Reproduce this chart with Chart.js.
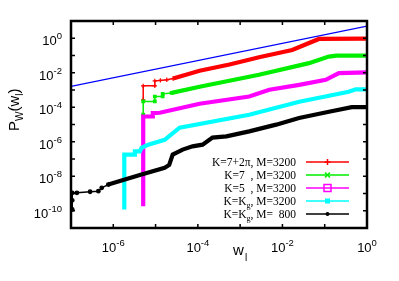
<!DOCTYPE html>
<html>
<head>
<meta charset="utf-8">
<script src="https://cdn.jsdelivr.net/npm/chart.js@4"></script>
<style>
html, body { margin: 0; padding: 0; background: #fff; }
#wrap { width: 399px; height: 281px; position: relative; }
</style>
</head>
<body>
<div id="wrap"><canvas id="c"></canvas></div>
<script>
// values (log-log)
const refX = [1e-7, 1];
const refY = [1.6e-3, 5.0];

const redX = [5.1e-6, 5.1e-6, 9.6e-6, 9.6e-6, 1.3e-5, 1.84e-5, 2.6e-5, 1.1e-4, 5.6e-4, 2.8e-3, 1.7e-2, 7.3e-2, 1];
const redY = [2.7e-4, 1.74e-3, 1.74e-3, 3.4e-3, 3.6e-3, 3.9e-3, 4.6e-3, 1.3e-2, 3.0e-2, 8.0e-2, 0.21, 0.91, 0.95];

const greenX = [5.1e-6, 5.1e-6, 9.6e-6, 9.6e-6, 1.47e-5, 1.47e-5, 2.4e-5, 1.1e-4, 2.8e-3, 4.25e-2, 0.125, 0.19, 1];
const greenY = [3.7e-5, 2.16e-4, 2.16e-4, 4.2e-4, 4.2e-4, 6.0e-4, 6.8e-4, 1.53e-3, 7.6e-3, 3.6e-2, 8.6e-2, 9.9e-2, 9.9e-2];

const magentaX = [5.1e-6, 5.1e-6, 8.6e-6, 8.6e-6, 1.26e-5, 1.1e-4, 1.64e-3, 4.9e-3, 2.5e-2, 0.106, 0.216, 1];
const magentaY = [1.85e-10, 2.9e-5, 2.9e-5, 4.6e-5, 4.8e-5, 1.6e-4, 4.2e-4, 1.03e-3, 2.0e-3, 3.9e-3, 9.5e-3, 1.05e-2];

const cyanX = [1.82e-6, 1.82e-6, 3.24e-6, 3.24e-6, 4.25e-6, 4.66e-6, 6.7e-6, 1.64e-5, 3.7e-5, 1.64e-3, 2.5e-2, 0.37, 0.54, 1];
const cyanY = [1.2e-10, 1.8e-7, 1.8e-7, 2.8e-7, 2.8e-7, 4.4e-7, 6.8e-7, 1.3e-6, 6.5e-6, 3.7e-5, 2.1e-4, 7.9e-4, 1.1e-3, 1.1e-3];

const blackX = [1.07e-7, 1.07e-7, 1.07e-7, 1.38e-7, 2.83e-7, 4.44e-7, 5.33e-7, 7.63e-7, 1.88e-6, 4.66e-6, 1.64e-5, 2.1e-5, 2.54e-5, 4.37e-5, 7.5e-5, 1.29e-4, 2.22e-4, 4.73e-4, 1.64e-3, 7.1e-3, 2.47e-2, 0.126, 0.436, 1];
const blackY = [1.2e-10, 4e-10, 1.1e-9, 1.1e-9, 1.26e-9, 1.36e-9, 2.14e-9, 3.3e-9, 6.45e-9, 1.26e-8, 3.1e-8, 4.5e-8, 1.82e-7, 3.5e-7, 5.4e-7, 6.76e-7, 1.73e-6, 2.04e-6, 3.98e-6, 9.8e-6, 2.4e-5, 5.5e-5, 1.02e-4, 1.02e-4];

const legendLabels = ['K=7+2\u03c0, M=3200', 'K=7  , M=3200', 'K=5  , M=3200', 'K=K_g, M=3200', 'K=K_g, M=  800'];
const xLabelExps = [-6, -4, -2, 0];
const yLabelExps = [0, -2, -4, -6, -8, -10];

function pts(xs, ys) { return xs.map((v, i) => ({ x: v, y: ys[i] })); }

// thin line + markers below `thin`, thick band above it
function series(label, xs, ys, color, style, r, thin, order) {
  return {
    label, data: pts(xs, ys), borderColor: color, backgroundColor: color,
    showLine: true, pointStyle: style, order,
    pointRadius: c => (c.raw && c.raw.x < thin ? r : 0),
    pointBorderWidth: 1.2, pointHoverRadius: 0,
    segment: { borderWidth: c => (xs[c.p1DataIndex] <= thin ? 1.5 : 4.2) },
    borderWidth: 4.2
  };
}

const datasets = [
  { label: 'ref', data: pts(refX, refY), borderColor: '#0000ff', borderWidth: 1.2, showLine: true, pointRadius: 0, order: 6 },
  series(legendLabels[0], redX, redY, '#ff0000', 'cross', 2.2, 3e-5, 5),
  series(legendLabels[1], greenX, greenY, '#00ee00', 'rect', 1.8, 3e-5, 4),
  series(legendLabels[2], magentaX, magentaY, '#ff00ff', 'rect', 0, 0, 3),
  series(legendLabels[3], cyanX, cyanY, '#00ffff', 'rect', 0, 0, 2),
  series(legendLabels[4], blackX, blackY, '#000000', 'circle', 1.8, 1e-6, 1)
];

const SANS = "'Liberation Sans', Arial, sans-serif";
const SERIF = "'Liberation Serif', 'Times New Roman', serif";

function supText(ctx, exp, cx, base, align) {
  ctx.font = '13px ' + SANS;
  const w1 = ctx.measureText('10').width;
  ctx.font = '9.5px ' + SANS;
  const w2 = ctx.measureText(exp).width;
  let x0 = align === 'right' ? cx - w1 - w2 : cx - (w1 + w2) / 2;
  ctx.textAlign = 'left';
  ctx.font = '13px ' + SANS;
  ctx.fillText('10', x0, base);
  ctx.font = '9.5px ' + SANS;
  ctx.fillText(exp, x0 + w1, base - 6);
}

function subText(ctx, txt, right, base, size) {
  const parts = txt.split(/_(.)/);
  let w = 0;
  parts.forEach((p, i) => { ctx.font = (i % 2 ? size * 0.7 : size) + 'px ' + SERIF; w += ctx.measureText(p).width; });
  let x0 = right - w;
  parts.forEach((p, i) => {
    ctx.font = (i % 2 ? size * 0.7 : size) + 'px ' + SERIF;
    ctx.fillText(p, x0, base + (i % 2 ? 3 : 0));
    x0 += ctx.measureText(p).width;
  });
}

function marker(ctx, style, x, y, color) {
  ctx.strokeStyle = color; ctx.fillStyle = color; ctx.lineWidth = 1.5;
  ctx.beginPath();
  if (style === 'cross') { ctx.moveTo(x - 3, y); ctx.lineTo(x + 3, y); ctx.moveTo(x, y - 3); ctx.lineTo(x, y + 3); ctx.stroke(); }
  else if (style === 'crossRot') { ctx.moveTo(x - 2.5, y - 2.5); ctx.lineTo(x + 2.5, y + 2.5); ctx.moveTo(x + 2.5, y - 2.5); ctx.lineTo(x - 2.5, y + 2.5); ctx.stroke(); }
  else if (style === 'rectOpen') { ctx.rect(x - 3.5, y - 3.5, 7, 7); ctx.stroke(); }
  else if (style === 'rect') { ctx.fillRect(x - 2.5, y - 2.5, 5, 5); }
  else { ctx.arc(x, y, 2, 0, Math.PI * 2); ctx.fill(); }
}

const deco = {
  id: 'deco',
  afterDraw(chart) {
    const { ctx, chartArea: a, scales: { x, y } } = chart;
    ctx.save();
    ctx.strokeStyle = '#000'; ctx.lineWidth = 1.5;
    ctx.beginPath();
    for (let e = -7; e <= 0; e++) {
      const px = x.getPixelForValue(10 ** e);
      ctx.moveTo(px, a.bottom); ctx.lineTo(px, a.bottom - 4);
      ctx.moveTo(px, a.top); ctx.lineTo(px, a.top + 4);
    }
    for (let e = -11; e <= 1; e++) {
      const py = y.getPixelForValue(10 ** e);
      ctx.moveTo(a.left, py); ctx.lineTo(a.left + 4, py);
      ctx.moveTo(a.right, py); ctx.lineTo(a.right - 4, py);
    }
    ctx.stroke();
    ctx.lineWidth = 2.5;
    ctx.strokeRect(a.left, a.top, a.right - a.left, a.bottom - a.top);

    ctx.fillStyle = '#000';
    xLabelExps.forEach(e => supText(ctx, String(e), x.getPixelForValue(10 ** e), 252, 'center'));
    yLabelExps.forEach(e => supText(ctx, String(e), 62, y.getPixelForValue(10 ** e) + 7, 'right'));

    // axis titles
    ctx.textAlign = 'left';
    ctx.font = '15px ' + SANS; ctx.fillText('w', 233, 255);
    ctx.font = '10px ' + SANS; ctx.fillText('l', 245, 261);
    ctx.save();
    ctx.translate(19, 131); ctx.rotate(-Math.PI / 2);
    let cx = 0;
    [['P', 15, 0], ['W', 10, 4], ['(w', 15, 0], ['l', 10, 4], [')', 15, 0]].forEach(([t, s, d]) => {
      ctx.font = s + 'px ' + SANS; ctx.fillText(t, cx, d); cx += ctx.measureText(t).width;
    });
    ctx.restore();

    // key
    const rows = [162, 175, 188, 201, 214];
    const styles = ['cross', 'crossRot', 'rectOpen', 'rect', 'circle'];
    for (let i = 0; i < 5; i++) {
      const ds = chart.data.datasets[i + 1];
      ctx.fillStyle = '#000';
      subText(ctx, legendLabels[i], 296, rows[i] + 4, 11.5);
      ctx.strokeStyle = ds.borderColor; ctx.lineWidth = 1.5;
      ctx.beginPath(); ctx.moveTo(306, rows[i]); ctx.lineTo(349, rows[i]); ctx.stroke();
      marker(ctx, styles[i], 327.5, rows[i], ds.borderColor);
    }
    ctx.restore();
  }
};

new Chart(document.getElementById('c'), {
  type: 'scatter',
  data: { datasets },
  options: {
    responsive: true, maintainAspectRatio: false, animation: false,
    layout: { padding: { left: 71, top: 21, right: 32, bottom: 53 } },
    plugins: { legend: { display: false }, tooltip: { enabled: false } },
    scales: {
      x: { type: 'logarithmic', min: 1e-7, max: 1, display: false },
      y: { type: 'logarithmic', min: 1e-11, max: 10, display: false }
    }
  },
  plugins: [deco]
});
</script>
</body>
</html>
